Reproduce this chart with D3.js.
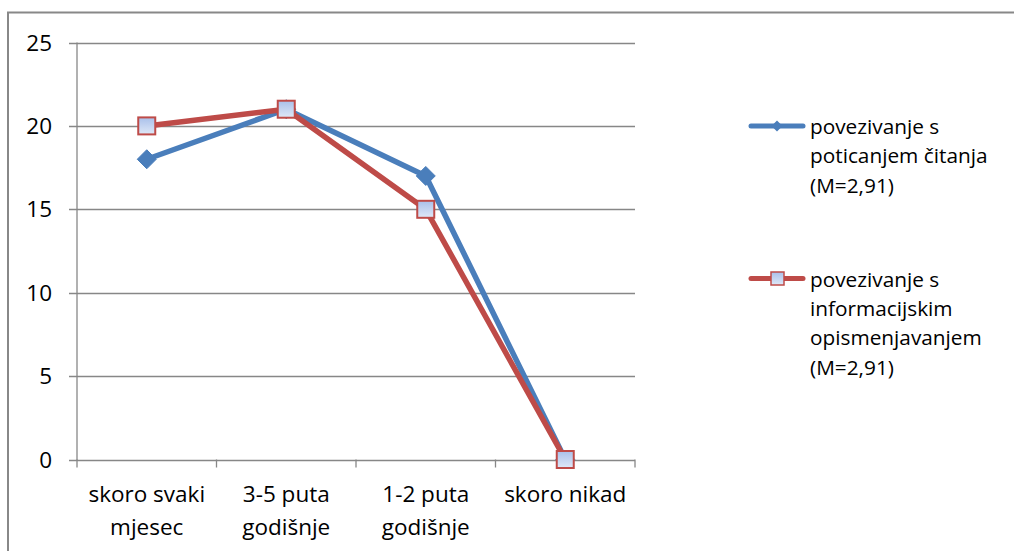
<!DOCTYPE html>
<html><head><meta charset="utf-8">
<script src="https://cdn.jsdelivr.net/npm/d3@7"></script>
<style>body{margin:0;background:#fff;}svg{display:block;}text{font-family:"Open Sans",sans-serif;fill:#000;}</style>
</head><body><svg id="c" width="1014" height="551"></svg>
<script>
const categories = [["skoro svaki","mjesec"],["3-5 puta","godišnje"],["1-2 puta","godišnje"],["skoro nikad"]];
const seriesNames = [["povezivanje s","poticanjem čitanja","(M=2,91)"],["povezivanje s","informacijskim","opismenjavanjem","(M=2,91)"]];
const reading = [18,21,17,0];
const infoLit = [20,21,15,0];
const yTicks = [0,5,10,15,20,25];

const svg = d3.select("#c");
const defs = svg.append("defs");
const g = defs.append("linearGradient").attr("id","sq").attr("x1",0).attr("y1",0).attr("x2",0).attr("y2",1);
g.append("stop").attr("offset","0%").attr("stop-color","#a9c0ea");
g.append("stop").attr("offset","100%").attr("stop-color","#dfe8f7");

// outer border
svg.append("path").attr("d","M8,560 V12.5 H1014").attr("fill","none").attr("stroke","#888").attr("stroke-width",2);

const x = d3.scaleBand().domain(d3.range(categories.length)).range([77,635]);
const y = d3.scaleLinear().domain([0,25]).range([459.5,42.5]);

// gridlines
svg.append("g").selectAll("line").data(yTicks).join("line")
  .attr("x1",69).attr("x2",635).attr("y1",d=>Math.round(y(d))+0.5).attr("y2",d=>Math.round(y(d))+0.5)
  .attr("stroke","#878787").attr("stroke-width",1.3);
// y axis line
svg.append("line").attr("x1",77).attr("x2",77).attr("y1",42.5).attr("y2",460).attr("stroke","#878787").attr("stroke-width",1.3);
// x ticks
svg.append("g").selectAll("line").data(d3.range(categories.length+1)).join("line")
  .attr("x1",d=>77+d*x.bandwidth()).attr("x2",d=>77+d*x.bandwidth()).attr("y1",459.5).attr("y2",467.5)
  .attr("stroke","#878787").attr("stroke-width",1.3);
// y labels
svg.append("g").selectAll("text").data(yTicks).join("text")
  .attr("x",52).attr("y",d=>y(d)+8).attr("text-anchor","end").attr("font-size",22.5).text(d=>d);
// x labels
const xl = svg.append("g").selectAll("text").data(categories).join("text")
  .attr("text-anchor","middle").attr("font-size",22.5);
xl.each(function(lines,i){
  const t=d3.select(this);
  lines.forEach((s,j)=>t.append("tspan").attr("x",x(i)+x.bandwidth()/2).attr("y",502+j*32.5).text(s));
});

const line = d3.line().x((d,i)=>x(i)+x.bandwidth()/2).y(d=>y(d));
const blue="#4a7ebb", red="#be4b48";
// series 1
svg.append("path").datum(reading).attr("d",line).attr("fill","none").attr("stroke",blue).attr("stroke-width",5.5).attr("stroke-linejoin","round");
svg.append("g").selectAll("path").data(reading).join("path")
  .attr("transform",(d,i)=>`translate(${x(i)+x.bandwidth()/2},${y(d)})`)
  .attr("d","M0,-9.5 L9.5,0 L0,9.5 L-9.5,0 Z").attr("fill",blue).attr("stroke",blue).attr("stroke-width",1);
// series 2
svg.append("path").datum(infoLit).attr("d",line).attr("fill","none").attr("stroke",red).attr("stroke-width",5.5).attr("stroke-linejoin","round");
svg.append("g").selectAll("rect").data(infoLit).join("rect")
  .attr("x",(d,i)=>x(i)+x.bandwidth()/2-8.5).attr("y",d=>y(d)-8.5).attr("width",17).attr("height",17)
  .attr("fill","url(#sq)").attr("stroke",red).attr("stroke-width",2);

// legend
const leg = [{y:126, lines:seriesNames[0], c:blue, m:"d"},{y:278.5, lines:seriesNames[1], c:red, m:"s"}];
leg.forEach(L=>{
  svg.append("line").attr("x1",751).attr("x2",803).attr("y1",L.y).attr("y2",L.y).attr("stroke",L.c).attr("stroke-width",5).attr("stroke-linecap","round");
  if(L.m==="d") svg.append("path").attr("transform",`translate(777,${L.y})`).attr("d","M0,-5.5 L5.5,0 L0,5.5 L-5.5,0 Z").attr("fill",L.c);
  else svg.append("rect").attr("x",771).attr("y",L.y-6.5).attr("width",13).attr("height",13).attr("fill","url(#sq)").attr("stroke",L.c).attr("stroke-width",1.5);
  const t=svg.append("text").attr("font-size",20.8);
  L.lines.forEach((s,j)=>t.append("tspan").attr("x",810).attr("y",L.y+8+j*29.4).text(s));
});
</script></body></html>
